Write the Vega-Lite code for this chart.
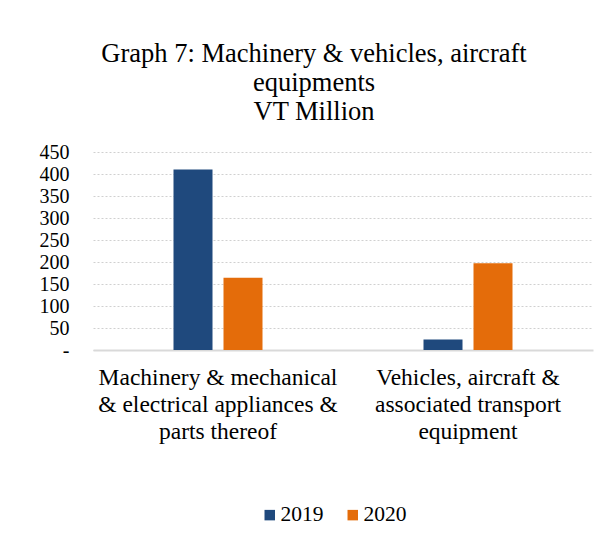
{
  "$schema": "https://vega.github.io/schema/vega-lite/v6.json",
  "autosize": "none",
  "width": 500,
  "height": 198,
  "padding": {"left": 93, "top": 152, "right": 19, "bottom": 184},
  "background": "white",
  "title": {
    "text": ["Graph 7: Machinery & vehicles, aircraft", "equipments", "VT Million"],
    "font": "Liberation Serif",
    "fontSize": 26.5,
    "fontWeight": "normal",
    "color": "#000000",
    "lineHeight": 29,
    "anchor": "middle",
    "dx": -29,
    "offset": 17
  },
  "data": {
    "values": [
      {"category": "Machinery & mechanical & electrical appliances & parts thereof", "year": "2019", "value": 410},
      {"category": "Machinery & mechanical & electrical appliances & parts thereof", "year": "2020", "value": 164},
      {"category": "Vehicles, aircraft & associated transport equipment", "year": "2019", "value": 24},
      {"category": "Vehicles, aircraft & associated transport equipment", "year": "2020", "value": 197}
    ]
  },
  "mark": {"type": "bar"},
  "encoding": {
    "x": {
      "field": "category",
      "type": "nominal",
      "sort": null,
      "title": null,
      "scale": {"paddingInner": 0.644, "paddingOuter": 0.322},
      "axis": {
        "labelAngle": 0,
        "labelExpr": "datum.value == 'Machinery & mechanical & electrical appliances & parts thereof' ? ['Machinery & mechanical', '& electrical appliances &', 'parts thereof'] : ['Vehicles, aircraft &', 'associated transport', 'equipment']",
        "labelFont": "Liberation Serif",
        "labelFontSize": 23.5,
        "labelColor": "#000000",
        "labelLineHeight": 27,
        "labelPadding": 15,
        "labelLimit": 400,
        "ticks": false,
        "domainColor": "#d9d9d9",
        "domainWidth": 2,
        "grid": false
      }
    },
    "xOffset": {
      "field": "year",
      "type": "nominal",
      "scale": {"paddingInner": 0.22, "paddingOuter": 0}
    },
    "y": {
      "field": "value",
      "type": "quantitative",
      "title": null,
      "scale": {"domain": [0, 450], "nice": false},
      "axis": {
        "values": [0, 50, 100, 150, 200, 250, 300, 350, 400, 450],
        "labelExpr": "datum.value == 0 ? '-\u00a0\u00a0\u00a0' : datum.label",
        "labelFont": "Liberation Serif",
        "labelFontSize": 20,
        "labelColor": "#000000",
        "labelPadding": 24,
        "domain": false,
        "ticks": false,
        "grid": true,
        "gridColor": "#d0d0d0",
        "gridDash": [2, 2],
        "gridWidth": 1
      }
    },
    "color": {
      "field": "year",
      "type": "nominal",
      "scale": {"domain": ["2019", "2020"], "range": ["#1F497D", "#E46C0A"]},
      "legend": {
        "title": null,
        "orient": "none",
        "direction": "horizontal",
        "legendX": 166,
        "legendY": 352,
        "symbolType": "square",
        "symbolSize": 110,
        "symbolOpacity": 1,
        "labelFont": "Liberation Serif",
        "labelFontSize": 21.5,
        "labelColor": "#000000",
        "labelOffset": 0,
        "columnPadding": 18
      }
    }
  },
  "config": {
    "view": {"stroke": null}
  }
}
